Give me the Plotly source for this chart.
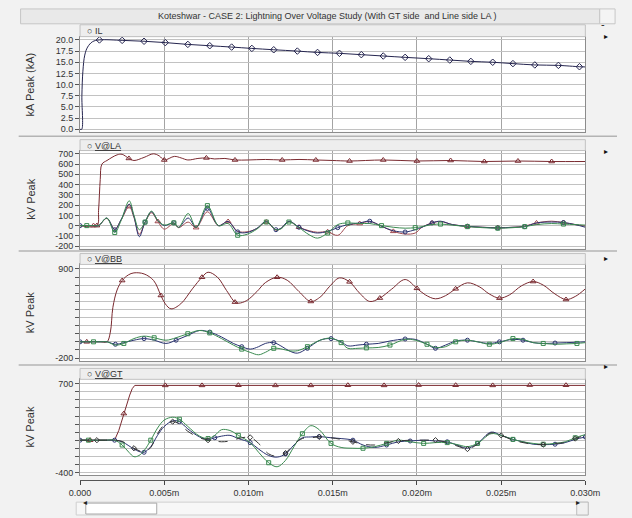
import numpy as np
import plotly.graph_objects as go

W, H = 632, 518

# ---------------- text ----------------
title_text = "Koteshwar - CASE 2: Lightning Over Voltage Study (With GT side  and Line side LA )"
panel_labels = ["\u25cb IL", "\u25cb <u>V@LA</u>", "\u25cb <u>V@BB</u>", "\u25cb <u>V@GT</u>"]
y_titles = ["kA Peak (kA)", "kV Peak", "kV Peak", "kV Peak"]
x_tick_vals = [0, 5, 10, 15, 20, 25, 30]          # ms
x_tick_text = ["0.000", "0.005m", "0.010m", "0.015m", "0.020m", "0.025m", "0.030m"]

# ---------------- data (time in ms) ----------------
# Panel 1 : IL (kA)
il_t = [0, 0.10, 0.11, 0.17, 0.28, 0.45, 0.74, 1.15, 2.5, 3.8, 5.06, 6.4, 7.7, 9.0, 10.2, 11.5,
        12.9, 14.1, 15.4, 16.7, 18.0, 19.3, 20.7, 21.95, 23.2, 24.5, 25.7, 27.0, 28.4, 29.65, 30.0]
il_ka = [0, 0, 7.5, 13.0, 16.6, 18.4, 19.6, 20.0, 19.9, 19.7, 19.4, 19.0, 18.7, 18.4, 18.1, 17.8,
         17.5, 17.2, 17.0, 16.7, 16.4, 16.1, 15.8, 15.5, 15.2, 15.0, 14.7, 14.4, 14.3, 14.0, 13.95]

# Panel 2 : V@LA (kV)
la_top_t = [0, 1.0, 1.1, 1.2, 1.3, 1.6, 2.2, 2.5, 2.9, 3.2, 3.8, 4.35, 4.7, 5.0, 5.6, 6.0, 6.4, 7.0,
            7.5, 8.0, 8.6, 9.2, 10, 11, 12, 13, 14, 15, 16, 18, 20, 22, 24, 26, 28, 30]
la_top_v = [0, 0, 150, 450, 600, 635, 690, 695, 655, 635, 665, 700, 680, 640, 675, 660, 640, 655,
            660, 650, 655, 640, 640, 645, 640, 645, 640, 635, 630, 640, 630, 635, 625, 630, 625, 625]
la_low_t = [0, 0.4, 0.8, 1.1, 1.59, 2.06, 2.44, 2.92, 3.2, 3.52, 3.86, 4.24, 4.62, 5.0, 5.57, 5.85,
            6.42, 6.89, 7.56, 8.22, 8.79, 9.36, 9.92, 10.49, 11.06, 11.63, 11.95, 12.4, 13.0, 13.6,
            14.1, 14.7, 15.3, 15.9, 16.6, 17.2, 17.9, 18.6, 19.3, 19.9, 20.3, 20.9, 21.4, 22.1,
            23.0, 23.9, 24.8, 25.7, 26.4, 27.1, 28.0, 28.7, 29.4, 30.0]
la_b = [0, 0, 0, 0, 74, -40, 60, 209, 90, -108, 34, 135, 50, 0, 27, -17, 74, -17, 168, 0, 40, -61,
        -67, -27, 40, -40, -23, 43, -16, -56, -72, -56, -20, 10, 26, 43, -7, -50, -62, -40, -16, 26,
        43, 10, -7, -16, -23, -16, -10, 26, 35, 30, 10, -16]
la_c = [0, 0, 0, 0, 74, -67, 50, 242, 100, -40, 34, 141, 50, 5, 27, -17, 118, -17, 195, 0, 20, -94,
        -84, -35, 35, -40, -30, 35, -20, -89, -122, -72, 10, 26, 20, 20, 0, -16, -25, -20, -10, 10,
        15, 5, -10, -20, -25, -20, -10, 10, 20, 15, 10, 5]
la_r = [0, 0, 0, 0, 70, -35, 55, 185, 80, -84, 30, 125, 40, -34, 20, -20, 34, -20, 135, 0, 40, -55,
        -60, -30, 35, -45, -25, 40, -16, -50, -65, -60, -95, 0, 20, 40, -5, -56, -82, -72, -16, 26,
        40, 10, -7, -16, -20, -16, -5, 26, 43, 30, 10, -5]

# Panel 3 : V@BB (kV)
bb_top_t = [0, 0.4, 0.8, 1.2, 1.6, 1.8, 1.95, 2.2, 2.5, 2.87, 3.2, 3.8, 4.37, 4.8, 5.06, 5.4, 5.98,
            6.67, 7.24, 7.6, 8.16, 8.7, 9.2, 9.43, 9.9, 10.5, 11.0, 11.7, 12.3, 13.0, 13.7, 14.3,
            14.8, 15.4, 16.0, 16.6, 17.2, 17.8, 18.5, 19.3, 20.0, 20.5, 21.1, 21.7, 22.3, 23.0,
            23.7, 24.3, 24.9, 25.5, 26.2, 26.9, 27.5, 28.2, 28.85, 29.4, 30.0]
bb_top_v = [0, 0, 0, 0, 0, 120, 425, 640, 756, 826, 851, 838, 756, 572, 469, 407, 469, 654, 797,
            859, 797, 633, 490, 477, 510, 620, 730, 797, 760, 620, 498, 560, 680, 789, 740, 600,
            498, 540, 650, 769, 660, 580, 531, 570, 654, 728, 680, 590, 539, 580, 690, 744, 700,
            590, 522, 560, 654]
bb_low_t = [0, 0.4, 0.8, 1.2, 1.6, 2.1, 2.6, 3.2, 3.8, 4.4, 5.1, 5.7, 6.4, 7.1, 7.7, 8.4, 9.1, 9.6,
            10.1, 10.6, 11.0, 11.5, 12.0, 12.4, 12.9, 13.5, 14.25, 14.9, 15.5, 15.9, 16.5, 17.0,
            17.7, 18.4, 19.3, 19.9, 20.6, 21.1, 21.7, 22.3, 23.0, 23.6, 24.3, 24.9, 25.7, 26.3,
            26.9, 27.5, 28.2, 28.9, 29.5, 30.0]
bb_b = [0, 0, 0, 0, 0, -30, -10, 20, 40, 20, -20, 20, 80, 140, 120, 60, -20, -60, -90, -60, -20,
        -10, -60, -110, -140, -80, 20, 40, 0, -50, -40, -30, -20, 10, 35, 30, -30, -80, -40, 10, 20,
        0, -20, 0, 30, 20, -10, -20, -15, -10, -5, 0]
bb_c = [0, 0, 0, 0, 0, -40, -20, 40, 70, 50, 20, 50, 100, 140, 110, 40, -40, -90, -130, -160, -130,
        -80, -90, -110, -110, -60, 20, 45, -10, -80, -80, -75, -70, -40, 30, 20, -30, -70, -60, 0,
        20, 0, -30, -10, 40, 30, -10, -20, -30, -25, -20, -10]

# Panel 4 : V@GT (kV)
gt_top_t = [0, 0.2, 0.6, 1.0, 2.05, 2.3, 2.6, 2.95, 3.1, 3.25, 5.06, 7.24, 9.4, 11.6, 13.7, 15.9,
            18.05, 20.1, 22.3, 24.5, 26.7, 28.85, 30.0]
gt_top_v = [0, 0, 0, 0, 0, 120, 330, 560, 640, 680, 680, 680, 682, 680, 680, 682, 680, 684, 682,
            680, 684, 682, 680]
gt_low_t = [0, 0.5, 1.0, 1.5, 2.05, 2.5, 2.9, 3.2, 3.5, 3.8, 4.2, 4.6, 5.0, 5.5, 5.9, 6.4, 7.1, 7.6,
            8.0, 8.4, 8.9, 9.4, 10.1, 10.6, 11.2, 11.7, 12.2, 12.7, 13.2, 13.7, 14.2, 14.9, 15.5,
            16.2, 16.8, 17.5, 18.2, 18.9, 19.6, 20.4, 21.1, 21.8, 22.5, 23.0, 23.6, 24.4, 25.0,
            25.7, 26.3, 26.9, 27.5, 28.2, 28.8, 29.4, 30.0]
gt_g = [0, 0, 0, 0, 0, -60, -150, -205, -190, -130, 0, 150, 250, 285, 260, 170, 50, 20, 60, 130,
        120, 60, -30, -150, -280, -330, -250, -80, 80, 180, 130, -40, -90, -100, -100, -80, -40, 0,
        -20, -40, -30, -30, -60, -80, -40, 80, 60, 10, -20, -40, -50, -40, -20, 30, 70]
gt_b = [0, 0, 0, 0, 0, -20, -70, -110, -140, -150, -80, 60, 170, 240, 230, 140, 40, 10, 30, 50, 60,
        20, -30, -110, -190, -210, -170, -60, 30, 40, 45, 30, 20, 0, -60, -90, -60, -20, -10, 0,
        -10, -20, -70, -100, -40, 100, 60, 10, -20, -50, -55, -50, -30, 10, 40]
gt_d = [0, 0, 0, 0, 0, -15, -60, -100, -130, -150, -90, 80, 190, 230, 200, 110, 30, 0, -10, -20,
        -10, 20, 35, -40, -170, -200, -160, -50, 20, 30, 40, 30, 10, -20, -50, -60, -30, -10, 0, 0,
        0, -30, -80, -110, -50, 90, 60, 0, -30, -50, -55, -40, -30, 20, 60]

for a, b in [(il_t, il_ka), (la_top_t, la_top_v), (la_low_t, la_b), (la_low_t, la_c), (la_low_t, la_r),
             (bb_top_t, bb_top_v), (bb_low_t, bb_b), (bb_low_t, bb_c), (gt_top_t, gt_top_v),
             (gt_low_t, gt_g), (gt_low_t, gt_b), (gt_low_t, gt_d)]:
    assert len(a) == len(b), (len(a), len(b))

# ---------------- styling ----------------
C_TOP = "#7a2a30"
C_RED = "#a04a50"
C_BLUE = "#2a3370"
C_GREEN = "#3a8a50"
C_DARK = "#353535"
C_IL = "#25254f"

panels = [(35, 131), (150, 249), (265, 363), (381, 478)]      # plot box top/bottom (px)
headers = [(23, 35), (139, 150), (254, 265), (370, 381)]
y_ranges = [[-0.55, 20.73], [-224.1, 731.9], [-242.8, 955.0], [-436.9, 755.3]]
XL, XR = 72, 599
XD = [XL / W, XR / W]


def px(x):
    return x / W


def py(y):
    return 1 - y / H


def axref(i, kind):
    return kind if i == 0 else f"{kind}{i + 1}"


def pick(t, v, t0, dt):
    t = np.asarray(t, float)
    v = np.asarray(v, float)
    targets = np.arange(t0, t[-1] + 1e-9, dt)
    idx = sorted(set(int(np.argmin(np.abs(t - x))) for x in targets))
    return t[idx], v[idx]


fig = go.Figure()


def add_curve(i, t, v, color, symbol, t0, dt, dash="solid", shape="spline", msize=4):
    xr, yr = axref(i, "x"), axref(i, "y")
    fig.add_trace(go.Scatter(x=t, y=v, mode="lines", xaxis=xr, yaxis=yr,
                             line=dict(color=color, width=1, dash=dash, shape=shape, smoothing=1.0),
                             hoverinfo="skip", showlegend=False))
    mt, mv = pick(t, v, t0, dt)
    fig.add_trace(go.Scatter(x=mt, y=mv, mode="markers", xaxis=xr, yaxis=yr,
                             marker=dict(symbol=symbol, size=msize, color=color,
                                         line=dict(color=color, width=1)),
                             hoverinfo="skip", showlegend=False))


# panel 1
add_curve(0, il_t, il_ka, C_IL, "diamond-open", 1.15, 1.3, shape="spline", msize=5)
# panel 2
add_curve(1, la_top_t, la_top_v, C_TOP, "triangle-up-open", 0.9, 2.15, msize=5)
add_curve(1, la_low_t, la_r, C_RED, "triangle-up-open", 0.8, 2.0, msize=5)
add_curve(1, la_low_t, la_b, C_BLUE, "circle-open", 0.0, 1.9)
add_curve(1, la_low_t, la_c, C_GREEN, "square-open", 0.4, 1.75)
# panel 3
add_curve(2, bb_top_t, bb_top_v, C_TOP, "triangle-up-open", 0.4, 2.2, msize=5)
add_curve(2, bb_low_t, bb_b, C_BLUE, "circle-open", 0.0, 1.9)
add_curve(2, bb_low_t, bb_c, C_GREEN, "square-open", 0.8, 1.8)
# panel 4
add_curve(3, gt_top_t, gt_top_v, C_TOP, "triangle-up-open", 0.6, 2.17, shape="linear", msize=5)
add_curve(3, gt_low_t, gt_b, C_BLUE, "circle-open", 0.0, 2.0)
add_curve(3, gt_low_t, gt_g, C_GREEN, "square-open", 0.5, 1.8)
add_curve(3, gt_low_t, gt_d, C_DARK, "diamond-open", 1.0, 2.2, dash="dash")

# helper (empty) trace for the free time axis at the bottom
fig.add_trace(go.Scatter(x=[], y=[], xaxis="x5", yaxis="y4", showlegend=False, hoverinfo="skip"))

layout = dict(width=W, height=H, margin=dict(l=0, r=0, t=0, b=0),
              paper_bgcolor="#f2f2f2", plot_bgcolor="#ffffff", showlegend=False,
              font=dict(family="Liberation Sans, Arial, sans-serif", size=9, color="#333333"))

y_ticks = [
    ([0, 2.5, 5, 7.5, 10, 12.5, 15, 17.5, 20],
     ["0.0", "2.5", "5.0", "7.5", "10.0", "12.5", "15.0", "17.5", "20.0"]),
    (list(range(-200, 701, 100)), [str(v) for v in range(-200, 701, 100)]),
    (list(range(-200, 901, 100)), [str(v) if v in (-200, 900) else "" for v in range(-200, 901, 100)]),
    (list(range(-400, 701, 100)), [str(v) if v in (-400, 700) else "" for v in range(-400, 701, 100)]),
]

for i in range(4):
    top, bot = panels[i]
    xa = dict(domain=XD, range=[0, 30], anchor=axref(i, "y"), tickmode="array",
              tickvals=x_tick_vals, showticklabels=False, ticks="",
              showgrid=True, gridcolor="#a4a4a4", gridwidth=1,
              showline=True, mirror=True, linecolor="#8c8c8c", linewidth=1, zeroline=False)
    if i > 0:
        xa["matches"] = "x"
    ya = dict(domain=[py(bot), py(top)], range=y_ranges[i], anchor=axref(i, "x"),
              tickmode="array", tickvals=y_ticks[i][0], ticktext=y_ticks[i][1],
              ticks="outside", ticklen=4, tickcolor="#555555", tickfont=dict(size=9, color="#333333"),
              showgrid=True, gridcolor="#c2c2c2", gridwidth=1,
              showline=True, mirror=True, linecolor="#8c8c8c", linewidth=1, zeroline=False)
    layout["xaxis" if i == 0 else f"xaxis{i + 1}"] = xa
    layout["yaxis" if i == 0 else f"yaxis{i + 1}"] = ya

layout["xaxis5"] = dict(domain=XD, range=[0, 30], overlaying="x4", anchor="free", position=py(483),
                        side="bottom", tickmode="array", tickvals=x_tick_vals, ticktext=x_tick_text,
                        ticks="outside", ticklen=4, tickcolor="#444444", showgrid=False,
                        showline=True, linecolor="#555555", linewidth=1, zeroline=False,
                        tickfont=dict(size=9, color="#333333"))

shapes = []
annotations = []

# title bar
shapes.append(dict(type="rect", xref="paper", yref="paper", x0=px(10), x1=px(614), y0=py(22), y1=py(7),
                   fillcolor="#e9e9e9", line=dict(color="#c6c6c6", width=1)))
shapes.append(dict(type="rect", xref="paper", yref="paper", x0=px(614), x1=px(630), y0=py(22), y1=py(7),
                   fillcolor="#f4f4f4", line=dict(color="#c6c6c6", width=1)))
annotations.append(dict(text=title_text, x=px(330), y=py(14.5), xref="paper", yref="paper",
                        showarrow=False, font=dict(size=9, color="#333333"), xanchor="center", yanchor="middle"))
annotations.append(dict(text="-", x=px(622), y=py(14.5), xref="paper", yref="paper",
                        showarrow=False, font=dict(size=11, color="#222222")))

# panel separators
for ys in [135.5, 251.5, 366.5]:
    shapes.append(dict(type="line", xref="paper", yref="paper", x0=px(8), x1=px(632), y0=py(ys), y1=py(ys),
                       line=dict(color="#b4b4b4", width=1.5)))

for i in range(4):
    ht, hb = headers[i]
    top, bot = panels[i]
    shapes.append(dict(type="rect", xref="paper", yref="paper", x0=px(XL), x1=px(XR), y0=py(hb), y1=py(ht),
                       fillcolor="#eeeeee", line=dict(color="#c2c2c2", width=1)))
    annotations.append(dict(text=panel_labels[i], x=px(77), y=py((ht + hb) / 2 + 0.5), xref="paper",
                            yref="paper", showarrow=False, xanchor="left", yanchor="middle",
                            font=dict(size=9, color="#333333")))
    annotations.append(dict(text=y_titles[i], x=px(20), y=py((top + bot) / 2), xref="paper", yref="paper",
                            showarrow=False, textangle=-90, xanchor="center", yanchor="middle",
                            font=dict(size=11, color="#333333")))
    annotations.append(dict(text="\u25b8", x=px(625), y=py(ht + 5), xref="paper", yref="paper",
                            showarrow=False, font=dict(size=8, color="#111111")))

# scrollbar
shapes.append(dict(type="rect", xref="paper", yref="paper", x0=px(68), x1=px(602), y0=py(518), y1=py(505),
                   fillcolor="#f7f7f7", line=dict(color="#cfcfcf", width=1)))
shapes.append(dict(type="rect", xref="paper", yref="paper", x0=px(78), x1=px(152), y0=py(517), y1=py(506),
                   fillcolor="#ffffff", line=dict(color="#a8a8a8", width=1)))
shapes.append(dict(type="rect", xref="paper", yref="paper", x0=px(590), x1=px(602), y0=py(518), y1=py(505),
                   fillcolor="#f0f0f0", line=dict(color="#bdbdbd", width=1)))
annotations.append(dict(text="\u25c2", x=px(73), y=py(511.5), xref="paper", yref="paper", showarrow=False,
                        font=dict(size=8, color="#222222")))
annotations.append(dict(text="\u25b8", x=px(596), y=py(511.5), xref="paper", yref="paper", showarrow=False,
                        font=dict(size=8, color="#222222")))

layout["shapes"] = shapes
layout["annotations"] = annotations
fig.update_layout(**layout)

fig.write_html("out.html")
